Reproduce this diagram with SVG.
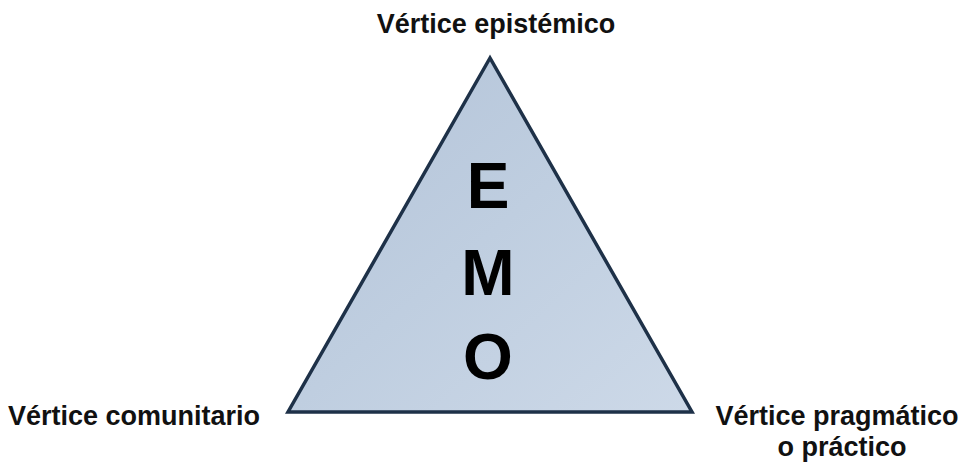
<svg xmlns="http://www.w3.org/2000/svg" width="964" height="467" viewBox="0 0 964 467">
<style>
.lbl{font-family:"Liberation Sans",Arial,sans-serif;font-weight:bold;font-size:27px;fill:#111}
.big{font-family:"Liberation Sans",Arial,sans-serif;font-weight:bold;font-size:64px;fill:#000;text-anchor:middle}
</style>
<defs>
<linearGradient id="fill" x1="0" y1="0" x2="1" y2="1">
<stop offset="0" stop-color="#b3c3d8"/>
<stop offset="0.5" stop-color="#bfcee0"/>
<stop offset="1" stop-color="#cdd9e8"/>
</linearGradient>
</defs>
<rect width="964" height="467" fill="#fff"/>
<g id="triangle">
<polygon points="490,58 288,412 692,412" fill="url(#fill)" stroke="#1e3148" stroke-width="3.5" stroke-linejoin="miter"/>
</g>
<g id="emo">
<text class="big" x="488" y="208">E</text>
<text class="big" x="488" y="295">M</text>
<text class="big" x="488" y="379">O</text>
</g>
<g id="v-epistemico"><text class="lbl" x="496" y="33" text-anchor="middle">Vértice epistémico</text></g>
<g id="v-comunitario"><text class="lbl" x="8" y="425">Vértice comunitario</text></g>
<g id="v-pragmatico"><text class="lbl" text-anchor="middle"><tspan x="837" y="425">Vértice pragmático</tspan><tspan x="842" y="456">o práctico</tspan></text></g>
<g id="connectors"/>
</svg>
